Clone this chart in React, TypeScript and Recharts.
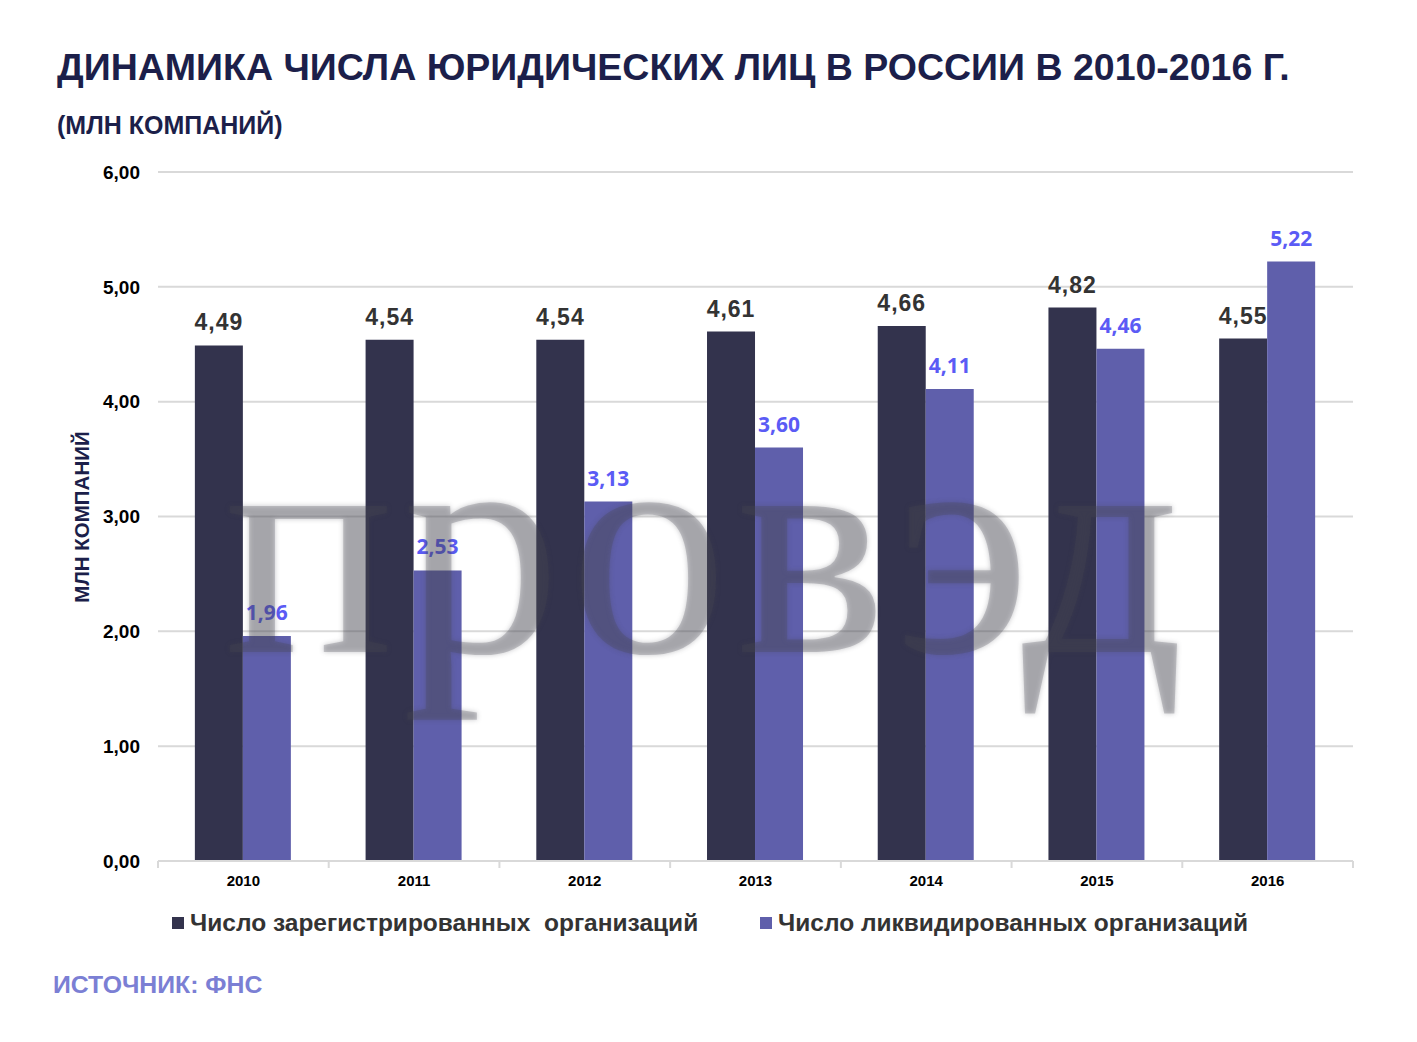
import React from 'react';
import { BarChart, Bar, XAxis, YAxis, CartesianGrid, LabelList } from 'recharts';

const years = ['2010', '2011', '2012', '2013', '2014', '2015', '2016'];
const registered = [4.49, 4.54, 4.54, 4.61, 4.66, 4.82, 4.55];
const liquidated = [1.96, 2.53, 3.13, 3.6, 4.11, 4.46, 5.22];
const yTicks = [0, 1, 2, 3, 4, 5, 6];

const seriesNames = ['Число зарегистрированных  организаций', 'Число ликвидированных организаций'];

const DARK = '#33334d';
const LIGHT = '#5f5fab';
const NAVY = '#1c1f4a';
const GRID = '#d9d9d9';

const data = years.map((year, i) => ({ year, registered: registered[i], liquidated: liquidated[i] }));

const fmt = (v: number) => v.toFixed(2).replace('.', ',');

const font = '"Liberation Sans", Arial, sans-serif';
const TICK_MARGIN = 14;

// category label plus the small tick marks at the category boundaries
const YearTick = (props: any) => {
  const { x, y, payload, index } = props;
  const half = payload.offset || 0;
  const axisY = y - TICK_MARGIN;
  return (
    <g>
      <line x1={x - half} x2={x - half} y1={axisY} y2={axisY + 7} stroke={GRID} strokeWidth={2} />
      {index === years.length - 1 && (
        <line x1={x + half} x2={x + half} y1={axisY} y2={axisY + 7} stroke={GRID} strokeWidth={2} />
      )}
      <text x={x} y={y} dy="0.71em" textAnchor="middle" fontSize={15} fontWeight={700} fill="#000" fontFamily={font}>
        {payload.value}
      </text>
    </g>
  );
};

export default function App() {
  return (
    <div style={{ position: 'absolute', left: 0, top: 0, width: 1417, height: 1042, fontFamily: font, background: '#fff' }}>
      <div style={{ position: 'absolute', left: 57, top: 46, fontSize: 37.5, fontWeight: 700, color: NAVY, whiteSpace: 'nowrap' }}>
        ДИНАМИКА ЧИСЛА ЮРИДИЧЕСКИХ ЛИЦ В РОССИИ В 2010-2016 Г.
      </div>
      <div style={{ position: 'absolute', left: 57, top: 111, fontSize: 25, fontWeight: 700, color: NAVY, whiteSpace: 'nowrap' }}>
        (МЛН КОМПАНИЙ)
      </div>

      <div style={{ position: 'absolute', left: 0, top: 0 }}>
        <BarChart
          width={1417}
          height={1042}
          data={data}
          margin={{ top: 172, right: 64, bottom: 151, left: 0 }}
          barCategoryGap="21.6%"
          barGap={0}
        >
          <CartesianGrid vertical={false} stroke={GRID} strokeWidth={2} />
          <XAxis
            dataKey="year"
            height={30}
            axisLine={{ stroke: GRID, strokeWidth: 2 }}
            tickLine={false}
            tickSize={0}
            tickMargin={TICK_MARGIN}
            tick={<YearTick />}
          />
          <YAxis
            width={158}
            domain={[0, 6]}
            ticks={yTicks}
            tickFormatter={fmt}
            axisLine={false}
            tickLine={false}
            tickSize={0}
            tickMargin={18}
            tick={{ fontSize: 19, fontWeight: 700, fill: '#000', fontFamily: font }}
          />
          <Bar dataKey="registered" fill={DARK} isAnimationActive={false}>
            <LabelList
              dataKey="registered"
              position="top"
              offset={15}
              formatter={(v: any) => fmt(Number(v))}
              style={{ fontSize: 23, fontWeight: 700, fill: '#333333', fontFamily: font, letterSpacing: 1 }}
            />
          </Bar>
          <Bar dataKey="liquidated" fill={LIGHT} isAnimationActive={false}>
            <LabelList
              dataKey="liquidated"
              position="top"
              offset={16}
              formatter={(v: any) => fmt(Number(v))}
              style={{ fontSize: 21, fontWeight: 700, fill: '#5b5bf5', fontFamily: '"Open Sans", sans-serif' }}
            />
          </Bar>
        </BarChart>
      </div>

      {/* watermark */}
      <div
        style={{
          position: 'absolute',
          left: 224,
          top: 386,
          fontFamily: '"Liberation Serif", serif',
          fontSize: 318,
          lineHeight: 1,
          letterSpacing: 8,
          color: 'rgba(70,70,80,0.26)',
          textShadow: '0 0 5px rgba(70,70,80,0.3)',
          pointerEvents: 'none',
          whiteSpace: 'nowrap',
        }}
      >
        провэд
      </div>

      <div
        style={{
          position: 'absolute',
          left: 82,
          top: 517,
          transform: 'translate(-50%, -50%) rotate(-90deg)',
          fontSize: 20.5,
          fontWeight: 700,
          color: NAVY,
          whiteSpace: 'nowrap',
        }}
      >
        МЛН КОМПАНИЙ
      </div>

      <div style={{ position: 'absolute', left: 172, top: 909, display: 'flex', alignItems: 'center', fontSize: 24.5, fontWeight: 700, color: '#333333', whiteSpace: 'pre' }}>
        <span style={{ display: 'inline-block', width: 12, height: 12, background: DARK, marginRight: 6 }} />
        {seriesNames[0]}
      </div>
      <div style={{ position: 'absolute', left: 760, top: 909, display: 'flex', alignItems: 'center', fontSize: 24.5, fontWeight: 700, color: '#333333', whiteSpace: 'pre' }}>
        <span style={{ display: 'inline-block', width: 12, height: 12, background: LIGHT, marginRight: 6 }} />
        {seriesNames[1]}
      </div>

      <div style={{ position: 'absolute', left: 53, top: 971, fontSize: 24.8, fontWeight: 700, color: '#7b7fd4', whiteSpace: 'nowrap' }}>
        ИСТОЧНИК: ФНС
      </div>
    </div>
  );
}
